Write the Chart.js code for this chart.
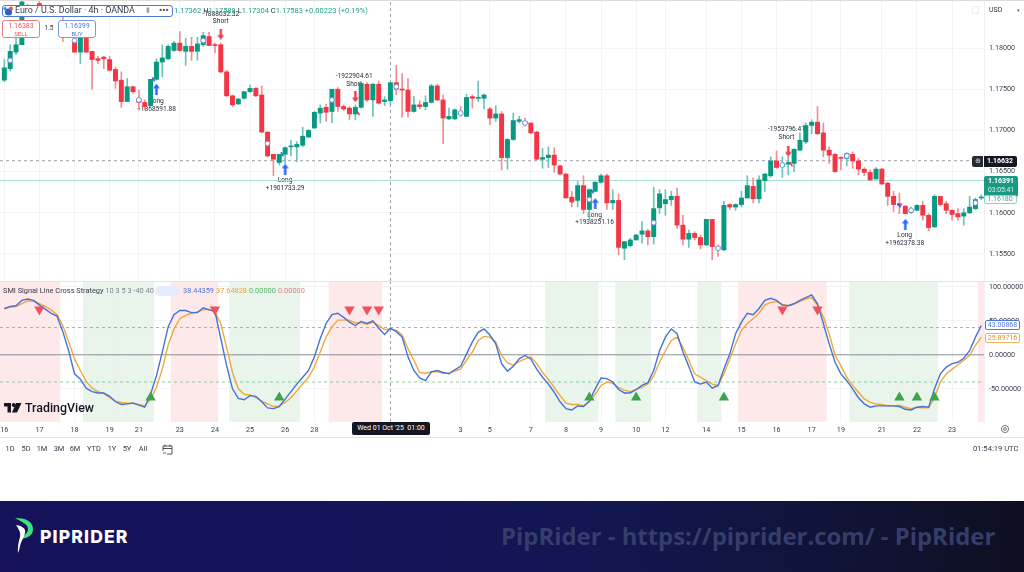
<!DOCTYPE html>
<html>
<head>
<meta charset="utf-8">
<script src="https://cdn.jsdelivr.net/npm/chart.js@4/dist/chart.umd.min.js"></script>
<style>
html, body { margin: 0; padding: 0; background: #fff; }
#stage { position: relative; width: 1024px; height: 572px; overflow: hidden; font-family: Roboto, sans-serif; background: #fff; filter: blur(0.35px); }
canvas { position: absolute; left: 0; display: block; }
.t { position: absolute; white-space: nowrap; line-height: 1; }
.c { transform: translateX(-50%); }
.box { position: absolute; box-sizing: border-box; background: #fff; }
.rule { position: absolute; left: 0; width: 1024px; height: 1px; background: #e0e3eb; }
</style>
</head>
<body>
<div id="stage">
  <canvas id="priceCanvas" width="1024" height="281" style="top:0"></canvas>
  <canvas id="smiCanvas" width="1024" height="157" style="top:281px"></canvas>

  <div class="rule" style="top:0;background:#dcdcdc"></div>
  <div class="rule" style="top:281px"></div>
  <div class="rule" style="top:437px"></div>

  <!-- header -->
  <div class="box" style="left:2px;top:5px;width:171px;height:12px;border:1px solid #4f77d6;border-radius:3px"></div>
  <svg style="position:absolute;left:2px;top:5px" width="12" height="12"><circle cx="6.5" cy="7" r="3.6" fill="#2c5fc4"/><circle cx="9" cy="3.5" r="2" fill="#e0574f"/><circle cx="3" cy="3.5" r="1.6" fill="#2c8fc4"/></svg>
  <div class="t" style="left:15px;top:6px;font-size:8.9px;color:#333a4a">Euro / U.S. Dollar · 4h · OANDA</div>
  <div class="t" style="left:146px;top:7px;font-size:7px;color:#9aa0ad">▮</div>
  <div class="t" style="left:159px;top:6px;font-size:9px;font-weight:700;color:#555">•••</div>
  <div class="t" style="left:174px;top:7px;font-size:7.5px;color:#22a08c"><span>1.17362</span> <span style="color:#333">H</span>1.17588 <span style="color:#333">L</span>1.17304 <span style="color:#333">C</span>1.17583 +0.00223 (+0.19%)</div>
  <div class="box" style="left:2px;top:20px;width:38px;height:18px;border:1px solid #e77b84;border-radius:3px"></div>
  <div class="t c" style="left:21px;top:23px;font-size:7px;color:#e2505c">1.16383</div>
  <div class="t c" style="left:21px;top:31px;font-size:6px;color:#e2505c">SELL</div>
  <div class="box" style="left:40px;top:22px;width:18px;height:13px"></div>
  <div class="t c" style="left:49px;top:25px;font-size:6.5px;color:#333">1.5</div>
  <div class="box" style="left:58px;top:20px;width:38px;height:18px;border:1px solid #7a9ae0;border-radius:3px"></div>
  <div class="t c" style="left:77px;top:23px;font-size:7px;color:#4f77d6">1.16399</div>
  <div class="t c" style="left:77px;top:31px;font-size:6px;color:#4f77d6">BUY</div>
  <div class="t" style="left:989px;top:7px;font-size:7px;color:#333">USD</div>
  <div class="t" style="left:1017px;top:8px;font-size:5px;color:#555">▾</div>
  <div class="box" style="left:972px;top:6px;width:7px;height:8px;border:1px solid #eceef2;border-radius:1px"></div>

  <!-- last price tags -->
  <div class="box" style="left:972px;top:156px;width:11px;height:11px;background:#262a33;border-radius:2px 0 0 2px"></div>
  <div class="t c" style="left:978px;top:158px;font-size:7px;color:#ddd">⊕</div>
  <div class="box" style="left:984px;top:156px;width:33px;height:11px;background:#131722;border-radius:0 2px 2px 0"></div>
  <div class="t c" style="left:1000px;top:158px;font-size:7px;font-weight:700;color:#fff">1.16632</div>
  <div class="box" style="left:984px;top:176px;width:34px;height:21px;background:#1a9a82;border-radius:2px"></div>
  <div class="t c" style="left:1001px;top:178px;font-size:7px;font-weight:700;color:#fff">1.16391</div>
  <div class="t c" style="left:1001px;top:187px;font-size:6.8px;color:#d5efe9">03:05:41</div>
  <div class="box" style="left:984px;top:195px;width:33px;height:9px;border:1px solid #8fd0c4;border-radius:2px"></div>
  <div class="t c" style="left:1000px;top:196px;font-size:7px;color:#4b9c8d">1.16180</div>

  <!-- indicator legend -->
  <div class="t" style="left:3px;top:287px;font-size:7.4px;color:#333a4a">SMI Signal Line Cross Strategy <span style="color:#80858f">10 3 5 3 -40 40</span></div>
  <div class="box" style="left:155px;top:286px;width:24px;height:10px;background:#e4ecfb;border-radius:5px"></div>
  <div class="t" style="left:183px;top:287px;font-size:7.4px;color:#4f77d6">38.44359</div>
  <div class="t" style="left:216px;top:287px;font-size:7.4px;color:#e9a23b">37.64828</div>
  <div class="t" style="left:249px;top:287px;font-size:7.4px;color:#5cb46a">0.00000</div>
  <div class="t" style="left:278px;top:287px;font-size:7.4px;color:#ee7b85">0.00000</div>

  <!-- indicator value tags -->
  <div class="box" style="left:985px;top:320px;width:35px;height:10px;border:1px solid #4f77d6;border-radius:2px"></div>
  <div class="t c" style="left:1002.5px;top:322px;font-size:7px;color:#4f77d6">43.00868</div>
  <div class="box" style="left:985px;top:333px;width:35px;height:10px;border:1px solid #efb25e;border-radius:2px"></div>
  <div class="t c" style="left:1002.5px;top:335px;font-size:7px;color:#d9902c">25.89716</div>

  <!-- watermark -->
  <svg style="position:absolute;left:4px;top:403px" width="18" height="11"><path d="M0 0h7v9.5H3.5V3.5H0z" fill="#131722"/><circle cx="9.7" cy="2" r="1.9" fill="#131722"/><path d="M12 0h5.5L13 9.5H8z" fill="#131722"/></svg>
  <div class="t" style="left:25px;top:402px;font-size:12.4px;font-weight:500;color:#131722">TradingView</div>

  <!-- crosshair date -->
  <div class="box" style="left:352px;top:422px;width:78px;height:13px;background:#131722;border-radius:2px"></div>
  <div class="t c" style="left:391px;top:425px;font-size:7px;color:#fff">Wed 01 Oct '25 &nbsp;01:00</div>
  <svg style="position:absolute;left:1000px;top:424px" width="10" height="10"><circle cx="5" cy="5" r="3.6" fill="none" stroke="#555" stroke-width=".8"/><circle cx="5" cy="5" r="1.4" fill="none" stroke="#555" stroke-width=".8"/></svg>

  <!-- range bar -->
  <div class="t c" style="left:10px;top:445px;font-size:7.4px;color:#333a4a">1D</div>
  <div class="t c" style="left:26px;top:445px;font-size:7.4px;color:#333a4a">5D</div>
  <div class="t c" style="left:42px;top:445px;font-size:7.4px;color:#333a4a">1M</div>
  <div class="t c" style="left:59px;top:445px;font-size:7.4px;color:#333a4a">3M</div>
  <div class="t c" style="left:75px;top:445px;font-size:7.4px;color:#333a4a">6M</div>
  <div class="t c" style="left:94px;top:445px;font-size:7.4px;color:#333a4a">YTD</div>
  <div class="t c" style="left:112px;top:445px;font-size:7.4px;color:#333a4a">1Y</div>
  <div class="t c" style="left:127px;top:445px;font-size:7.4px;color:#333a4a">5Y</div>
  <div class="t c" style="left:143px;top:445px;font-size:7.4px;color:#333a4a">All</div>
  <svg style="position:absolute;left:162px;top:443px" width="11" height="12"><path d="M1 3h9v8H5M1 3v5M1 5.5h9M3 1.500v2M8 1.500v2M1 10h3" fill="none" stroke="#444" stroke-width=".9"/></svg>
  <div class="t" style="left:973px;top:445px;font-size:7.6px;color:#333a4a">01:54:19 UTC</div>

  <!-- footer banner -->
  <div style="position:absolute;left:0;top:501px;width:1024px;height:71px;background:linear-gradient(90deg,#15125a 0%,#14145a 35%,#121650 60%,#101332 85%,#0e0f22 100%)"></div>
  <svg style="position:absolute;left:12px;top:516px" width="26" height="40">
    <path d="M3 2c10 0 18 3 18 11 0 7-6 9-12 10 3-4 7-6 7-10 0-5-6-7-13-11z" fill="#3ee07f"/>
    <path d="M4 9c7 1 10 4 9 8-1 5-4 8-5 13-.6 3-1 5-2 7-.6-6 .6-11 2-16 .8-4-.5-7-4-12z" fill="#fff"/>
  </svg>
  <div class="t" style="left:40px;top:527.500px;font-size:17.6px;font-weight:800;letter-spacing:1.1px;color:#fff;font-family:Inter,sans-serif">PIPRIDER</div>
  <div class="t" style="left:501px;top:524px;font-size:23.9px;font-weight:700;color:#353d6b;font-family:'Open Sans',sans-serif">PipRider - https://piprider.com/ - PipRider</div>
</div>

<script>
// candles, one every 4h (first row of each block starts at the index in the comment)
const opens = [
    1.1761, 1.1775, 1.1795, 1.1804, 1.1850, 1.1842, 1.1854, 1.1845, 1.1841, 1.1847, // 0
    1.1846, 1.1842, 1.1808, 1.1795, 1.1812, 1.1796, 1.1787, 1.1789, 1.1786, 1.1774, // 10
    1.1761, 1.1735, 1.1753, 1.1738, 1.1734, 1.1730, 1.1762, 1.1783, 1.1787, 1.1797, // 20
    1.1806, 1.1796, 1.1802, 1.1796, 1.1804, 1.1814, 1.1804, 1.1804, 1.1771, 1.1742, // 30
    1.1732, 1.1739, 1.1747, 1.1751, 1.1743, 1.1698, 1.1671, 1.1661, 1.1671, 1.1680, // 40
    1.1680, 1.1682, 1.1692, 1.1703, 1.1721, 1.1728, 1.1723, 1.1750, 1.1729, 1.1727, // 50
    1.1720, 1.1728, 1.1756, 1.1737, 1.1756, 1.1735, 1.1736, 1.1758, 1.1750, 1.1749, // 60
    1.1723, 1.1731, 1.1729, 1.1734, 1.1754, 1.1737, 1.1714, 1.1714, 1.1722, 1.1717, // 70
    1.1741, 1.1739, 1.1739, 1.1726, 1.1715, 1.1720, 1.1667, 1.1689, 1.1711, 1.1711, // 80
    1.1709, 1.1698, 1.1665, 1.1667, 1.1670, 1.1657, 1.1647, 1.1619, 1.1615, 1.1633, // 90
    1.1604, 1.1626, 1.1637, 1.1645, 1.1612, 1.1615, 1.1557, 1.1560, 1.1567, 1.1574, // 100
    1.1578, 1.1571, 1.1606, 1.1611, 1.1616, 1.1620, 1.1585, 1.1568, 1.1575, 1.1570, // 110
    1.1561, 1.1592, 1.1559, 1.1555, 1.1610, 1.1607, 1.1610, 1.1618, 1.1632, 1.1617, // 120
    1.1639, 1.1645, 1.1663, 1.1656, 1.1659, 1.1660, 1.1676, 1.1686, 1.1706, 1.1710, // 130
    1.1697, 1.1676, 1.1671, 1.1667, 1.1666, 1.1671, 1.1663, 1.1653, 1.1649, 1.1641, // 140
    1.1653, 1.1636, 1.1620, 1.1611, 1.1608, 1.1601, 1.1603, 1.1609, 1.1597, 1.1583, // 150
    1.1620, 1.1611, 1.1603, 1.1599, 1.1596, 1.1600, 1.1605, 1.1618                  // 160
];
const highs = [
    1.1786, 1.1804, 1.1815, 1.1858, 1.1853, 1.1851, 1.1857, 1.1848, 1.1850, 1.1850,
    1.1849, 1.1849, 1.1812, 1.1816, 1.1816, 1.1796, 1.1790, 1.1790, 1.1790, 1.1777,
    1.1771, 1.1763, 1.1754, 1.1749, 1.1737, 1.1762, 1.1787, 1.1804, 1.1804, 1.1808,
    1.1820, 1.1812, 1.1813, 1.1813, 1.1819, 1.1819, 1.1806, 1.1806, 1.1773, 1.1743,
    1.1739, 1.1747, 1.1755, 1.1752, 1.1754, 1.1698, 1.1671, 1.1671, 1.1680, 1.1688,
    1.1686, 1.1704, 1.1701, 1.1723, 1.1731, 1.1732, 1.1750, 1.1752, 1.1731, 1.1729,
    1.1731, 1.1758, 1.1758, 1.1757, 1.1760, 1.1741, 1.1758, 1.1779, 1.1769, 1.1763,
    1.1741, 1.1736, 1.1742, 1.1756, 1.1756, 1.1743, 1.1727, 1.1726, 1.1729, 1.1744,
    1.1743, 1.1760, 1.1744, 1.1728, 1.1730, 1.1723, 1.1690, 1.1721, 1.1717, 1.1715,
    1.1709, 1.1699, 1.1678, 1.1680, 1.1679, 1.1658, 1.1648, 1.1626, 1.1638, 1.1645,
    1.1629, 1.1638, 1.1647, 1.1647, 1.1628, 1.1623, 1.1565, 1.1569, 1.1574, 1.1589,
    1.1580, 1.1631, 1.1628, 1.1628, 1.1626, 1.1630, 1.1597, 1.1579, 1.1577, 1.1573,
    1.1592, 1.1592, 1.1561, 1.1614, 1.1611, 1.1611, 1.1626, 1.1645, 1.1642, 1.1645,
    1.1648, 1.1668, 1.1675, 1.1668, 1.1668, 1.1678, 1.1697, 1.1709, 1.1713, 1.1729,
    1.1709, 1.1680, 1.1672, 1.1668, 1.1673, 1.1674, 1.1666, 1.1655, 1.1652, 1.1655,
    1.1654, 1.1637, 1.1626, 1.1624, 1.1609, 1.1607, 1.1610, 1.1614, 1.1599, 1.1622,
    1.1620, 1.1614, 1.1604, 1.1605, 1.1605, 1.1620, 1.1618, 1.1622
];
const lows = [
    1.1759, 1.1772, 1.1792, 1.1804, 1.1840, 1.1840, 1.1840, 1.1840, 1.1840, 1.1840,
    1.1808, 1.1840, 1.1795, 1.1781, 1.1795, 1.1750, 1.1781, 1.1775, 1.1772, 1.1751,
    1.1728, 1.1735, 1.1745, 1.1725, 1.1725, 1.1729, 1.1761, 1.1765, 1.1786, 1.1796,
    1.1796, 1.1779, 1.1785, 1.1785, 1.1802, 1.1803, 1.1794, 1.1770, 1.1741, 1.1729,
    1.1732, 1.1738, 1.1746, 1.1741, 1.1697, 1.1668, 1.1645, 1.1658, 1.1660, 1.1669,
    1.1662, 1.1680, 1.1691, 1.1702, 1.1709, 1.1711, 1.1709, 1.1723, 1.1724, 1.1713,
    1.1713, 1.1727, 1.1735, 1.1717, 1.1732, 1.1730, 1.1731, 1.1743, 1.1716, 1.1716,
    1.1722, 1.1726, 1.1725, 1.1733, 1.1736, 1.1684, 1.1713, 1.1713, 1.1717, 1.1717,
    1.1727, 1.1735, 1.1726, 1.1707, 1.1711, 1.1652, 1.1653, 1.1688, 1.1709, 1.1705,
    1.1696, 1.1664, 1.1654, 1.1655, 1.1649, 1.1646, 1.1618, 1.1607, 1.1607, 1.1599,
    1.1591, 1.1626, 1.1636, 1.1604, 1.1604, 1.1549, 1.1543, 1.1559, 1.1567, 1.1563,
    1.1561, 1.1562, 1.1599, 1.1597, 1.1609, 1.1581, 1.1561, 1.1558, 1.1567, 1.1556,
    1.1560, 1.1543, 1.1547, 1.1554, 1.1604, 1.1603, 1.1607, 1.1618, 1.1612, 1.1612,
    1.1626, 1.1643, 1.1654, 1.1643, 1.1646, 1.1650, 1.1675, 1.1684, 1.1696, 1.1695,
    1.1668, 1.1660, 1.1649, 1.1652, 1.1657, 1.1654, 1.1646, 1.1645, 1.1639, 1.1641,
    1.1634, 1.1609, 1.1601, 1.1599, 1.1599, 1.1599, 1.1603, 1.1591, 1.1578, 1.1582,
    1.1608, 1.1599, 1.1591, 1.1591, 1.1585, 1.1599, 1.1604, 1.1616
];
const closes = [
    1.1776, 1.1796, 1.1804, 1.1856, 1.1842, 1.1848, 1.1842, 1.1841, 1.1847, 1.1842,
    1.1842, 1.1846, 1.1795, 1.1812, 1.1795, 1.1786, 1.1785, 1.1787, 1.1773, 1.1760,
    1.1735, 1.1753, 1.1747, 1.1734, 1.1729, 1.1762, 1.1783, 1.1788, 1.1802, 1.1806,
    1.1797, 1.1802, 1.1796, 1.1805, 1.1815, 1.1803, 1.1803, 1.1771, 1.1742, 1.1731,
    1.1738, 1.1747, 1.1751, 1.1742, 1.1698, 1.1669, 1.1665, 1.1671, 1.1679, 1.1681,
    1.1683, 1.1693, 1.1700, 1.1722, 1.1727, 1.1722, 1.1750, 1.1729, 1.1726, 1.1720,
    1.1728, 1.1757, 1.1737, 1.1756, 1.1733, 1.1737, 1.1758, 1.1750, 1.1749, 1.1723,
    1.1731, 1.1729, 1.1734, 1.1754, 1.1737, 1.1715, 1.1717, 1.1725, 1.1720, 1.1740,
    1.1739, 1.1740, 1.1743, 1.1715, 1.1720, 1.1667, 1.1689, 1.1712, 1.1713, 1.1708,
    1.1697, 1.1665, 1.1667, 1.1670, 1.1658, 1.1647, 1.1618, 1.1613, 1.1633, 1.1604,
    1.1628, 1.1637, 1.1645, 1.1612, 1.1615, 1.1558, 1.1565, 1.1567, 1.1573, 1.1578,
    1.1571, 1.1605, 1.1623, 1.1616, 1.1620, 1.1585, 1.1568, 1.1575, 1.1570, 1.1561,
    1.1592, 1.1559, 1.1556, 1.1609, 1.1607, 1.1610, 1.1618, 1.1633, 1.1617, 1.1640,
    1.1647, 1.1663, 1.1655, 1.1659, 1.1661, 1.1677, 1.1688, 1.1706, 1.1710, 1.1696,
    1.1676, 1.1670, 1.1650, 1.1666, 1.1672, 1.1663, 1.1653, 1.1649, 1.1640, 1.1653,
    1.1635, 1.1620, 1.1610, 1.1609, 1.1599, 1.1604, 1.1609, 1.1597, 1.1582, 1.1620,
    1.1610, 1.1603, 1.1598, 1.1595, 1.1600, 1.1607, 1.1616, 1.1619
];

// SMI panel
const smiLine = [
    68, 71, 72, 80, 82, 80, 73, 67, 61, 57,
    34, 6, -28, -36, -49, -54, -56, -56, -61, -69,
    -73, -72, -71, -74, -77, -58, -31, 4, 41, 59,
    65, 65, 62, 62, 69, 66, 64, 24, -16, -50,
    -64, -66, -60, -61, -69, -78, -79, -76, -65, -54,
    -43, -33, -23, -3, 24, 46, 59, 61, 55, 48,
    43, 49, 46, 50, 39, 30, 39, 34, 26, -3,
    -23, -34, -38, -25, -23, -26, -28, -22, -17, 1,
    19, 33, 38, 29, 16, -13, -24, -17, -6, -1,
    -6, -21, -33, -43, -55, -69, -79, -81, -75, -76,
    -68, -50, -34, -35, -40, -51, -56, -56, -51, -45,
    -41, -23, 6, 26, 38, 31, 4, -17, -40, -43,
    -40, -49, -45, -21, 1, 31, 48, 61, 59, 68,
    80, 83, 80, 73, 72, 75, 80, 84, 88, 75,
    46, 16, -11, -28, -38, -50, -63, -72, -77, -75,
    -75, -75, -75, -76, -80, -81, -77, -76, -77, -50,
    -28, -18, -13, -11, -5, 6, 26, 43
];
const signalLine = [
    67, 70, 71, 75, 79, 79, 75, 71, 66, 59,
    43, 19, -6, -23, -39, -49, -54, -57, -63, -68,
    -70, -71, -71, -73, -75, -65, -48, -21, 14, 38,
    53, 58, 61, 63, 66, 67, 63, 46, 11, -26,
    -50, -58, -59, -63, -68, -72, -76, -75, -70, -63,
    -53, -43, -33, -18, 4, 26, 41, 51, 51, 51,
    47, 47, 45, 48, 43, 37, 38, 36, 29, 9,
    -8, -26, -27, -25, -25, -27, -27, -24, -21, -8,
    4, 21, 27, 26, 19, -1, -12, -15, -10, -6,
    -3, -13, -26, -36, -48, -60, -71, -73, -73, -75,
    -69, -58, -45, -40, -42, -48, -52, -54, -51, -48,
    -43, -31, -11, 6, 21, 26, 11, -8, -28, -33,
    -38, -43, -45, -28, -6, 16, 36, 46, 53, 61,
    73, 77, 78, 74, 72, 75, 78, 82, 84, 73,
    56, 31, -1, -16, -33, -45, -55, -65, -70, -72,
    -73, -75, -75, -74, -77, -79, -77, -78, -78, -63,
    -40, -28, -21, -15, -8, -1, 14, 26
];
const redZones = [[-1, 9], [29, 36], [56, 64], [126, 140], [167, 167]];
const greenZones = [[14, 25], [39, 50], [93, 101], [105, 110], [119, 122], [145, 159]];
const sellSignals = [6, 36, 59, 62, 64, 133, 139];
const buySignals = [25, 47, 100, 108, 123, 153, 156, 159];
const sellSignalLevel = 66.5;
const buySignalLevel = -62.7;
const upperLevel = 40;
const lowerLevel = -40;

// axes
const dayTicks = [0, 6, 12, 18, 23, 30, 36, 42, 48, 53, 78, 83, 90, 96, 102, 108, 113, 120, 126, 132, 138, 143, 150, 156, 162];
const dayLabels = ['16', '17', '18', '19', '21', '23', '24', '25', '26', '28', '3', '5', '7', '8', '9', '10', '12', '14', '15', '16', '17', '19', '21', '22', '23'];
const priceTicks = [1.155, 1.16, 1.165, 1.17, 1.175, 1.18];
const smiTicks = [-50, 0, 50, 100];
const xMin = -0.74;
const xMax = 167.46;

// markers on the price panel
const orderIdx = [1, 12, 23, 34, 45, 56, 67, 78, 89, 100, 111, 122, 133, 144, 155, 166];
const orderPrice = [1.1785, 1.1809, 1.1737, 1.1809, 1.1684, 1.1737, 1.1753, 1.1721, 1.1709, 1.1616, 1.1588, 1.1557, 1.1658, 1.1669, 1.1603, 1.1612];
const longIdx = [26, 48, 101, 154];
const longPrice = [1.1750, 1.1653, 1.1611, 1.1586];
const shortIdx = [37, 60, 134];
const shortPrice = [1.1817, 1.1741, 1.1675];
const fillBlueIdx = [25.5, 47.5, 100.5, 153];
const fillBluePrice = [1.1762, 1.1671, 1.1626, 1.1609];
const fillRedIdx = [60.5, 134.5];
const fillRedPrice = [1.1721, 1.1659];
const noteIdx = [26, 26, 37, 37, 48, 48, 59.8, 59.8, 100.9, 100.9, 133.7, 133.7, 153.9, 153.9];
const notePrice = [1.17348, 1.1726, 1.18413, 1.18324, 1.1639, 1.1630, 1.1766, 1.17563, 1.15973, 1.1588, 1.17017, 1.16914, 1.15731, 1.15634];
const noteText = ['Long', '+1868591.88', '-1888032.32', 'Short', 'Long', '+1901733.29', '-1922904.61', 'Short', 'Long', '+1938251.16', '-1953796.41', 'Short', 'Long', '+1962378.38'];
const crossIdx = 66;
const markedPrice = 1.16632;
const lastPrice = 1.16391;

const upColor = '#089981';
const downColor = '#f23645';
const upWick = '#6cc4b4';
const downWick = '#f58b93';
const gridColor = '#f3f4f7';
const tickColor = '#3c4150';

function idx() { return opens.map((_, i) => i); }

// small arrow used as point style for the trade marks
function makeArrow(color, down) {
    const c = document.createElement('canvas');
    c.width = 7; c.height = 11;
    const g = c.getContext('2d');
    g.fillStyle = color;
    if (down) { g.translate(0, 11); g.scale(1, -1); }
    g.beginPath();
    g.moveTo(3.5, 0); g.lineTo(7, 4.5); g.lineTo(4.7, 4.5); g.lineTo(4.7, 11);
    g.lineTo(2.3, 11); g.lineTo(2.3, 4.5); g.lineTo(0, 4.5);
    g.closePath(); g.fill();
    return c;
}

function xScaleOptions(showLabels) {
    return {
        type: 'linear', min: xMin, max: xMax, offset: false,
        afterBuildTicks: s => { s.ticks = dayTicks.map(v => ({ value: v })); },
        afterFit: s => { s.height = showLabels ? 16 : 0; s.paddingLeft = 0; s.paddingRight = 0; },
        grid: { color: gridColor, drawTicks: false, offset: false },
        border: { display: false },
        ticks: {
            display: showLabels, autoSkip: false, maxRotation: 0, padding: 4, color: tickColor,
            font: { family: 'Roboto', size: 7.2 },
            callback: v => dayLabels[dayTicks.indexOf(v)]
        }
    };
}

function yScaleOptions(min, max, values, digits) {
    return {
        position: 'right', min: min, max: max,
        afterBuildTicks: s => { s.ticks = values.map(v => ({ value: v })); },
        // no room for half a label at the ends, the plot fills the panel
        afterFit: s => { s.width = 40; s.paddingTop = 0; s.paddingBottom = 0; },
        grid: { color: gridColor, drawTicks: false },
        border: { color: '#eef0f3' },
        ticks: {
            color: tickColor, padding: 5, font: { family: 'Roboto', size: 7.2 },
            callback: v => v.toFixed(digits)
        }
    };
}

const baseOptions = {
    responsive: false, animation: false, events: [],
    layout: { padding: 0, autoPadding: false },
    plugins: { legend: { display: false }, tooltip: { enabled: false } }
};

function hLine(y, color, dash, width) {
    return {
        type: 'line', data: [{ x: xMin, y: y }, { x: xMax, y: y }],
        borderColor: color, borderDash: dash, borderWidth: width,
        pointRadius: 0, order: 6
    };
}

function crossLine(min, max) {
    return {
        type: 'line', data: [{ x: crossIdx, y: min }, { x: crossIdx, y: max }],
        borderColor: '#9a9ea8', borderDash: [3, 3], borderWidth: 1, pointRadius: 0, order: 6
    };
}

function pointSet(xs, ys, opts) {
    return Object.assign({
        type: 'line', showLine: false,
        data: xs.map((x, i) => ({ x: x, y: ys[i] }))
    }, opts);
}

const tradeNotes = {
    id: 'tradeNotes',
    beforeDatasetsDraw(chart) {
        const g = chart.ctx;
        g.save();
        g.font = '6.6px Roboto';
        g.fillStyle = '#2a2e39';
        g.textAlign = 'center';
        g.textBaseline = 'middle';
        noteText.forEach((txt, i) => {
            g.fillText(txt, chart.scales.x.getPixelForValue(noteIdx[i]), chart.scales.y.getPixelForValue(notePrice[i]));
        });
        g.restore();
    }
};

const candleColors = opens.map((o, i) => (closes[i] >= o ? upColor : downColor));
const wickColors = opens.map((o, i) => (closes[i] >= o ? upWick : downWick));

new Chart(document.getElementById('priceCanvas'), {
    type: 'bar',
    data: {
        datasets: [
            hLine(markedPrice, '#9a9ea8', [3, 3], 1),
            hLine(lastPrice, '#a5dcd2', [], 1),
            crossLine(1.15172, 1.18583),
            {
                data: idx().map(i => ({ x: i, y: [lows[i], highs[i]] })),
                backgroundColor: wickColors, grouped: false, barThickness: 1, order: 5
            },
            {
                data: idx().map(i => ({ x: i, y: [opens[i], closes[i]] })),
                backgroundColor: candleColors, grouped: false, barThickness: 4.3, minBarLength: 1, order: 4
            },
            pointSet(orderIdx, orderPrice, { pointStyle: 'circle', pointRadius: 2.4, pointBackgroundColor: '#fff', pointBorderColor: '#6f90e0', pointBorderWidth: 1, order: 3 }),
            pointSet(fillBlueIdx, fillBluePrice, { pointStyle: 'line', pointRadius: 2.4, pointRotation: 60, pointBorderColor: '#2962ff', pointBorderWidth: 1.5, order: 2 }),
            pointSet(fillRedIdx, fillRedPrice, { pointStyle: 'line', pointRadius: 2.4, pointRotation: 60, pointBorderColor: '#e53945', pointBorderWidth: 1.5, order: 2 }),
            pointSet(longIdx, longPrice, { pointStyle: makeArrow('#2962ff', false), pointRadius: 5, order: 1 }),
            pointSet(shortIdx, shortPrice, { pointStyle: makeArrow('#f23645', true), pointRadius: 5, order: 1 })
        ]
    },
    options: Object.assign({}, baseOptions, {
        scales: {
            x: xScaleOptions(false),
            y: yScaleOptions(1.15172, 1.18583, priceTicks, 5)
        }
    }),
    plugins: [tradeNotes]
});

function zoneData(zones) {
    const out = [];
    zones.forEach(z => {
        for (let i = z[0]; i <= z[1]; i++) out.push({ x: i, y: [-98.7, 108.4] });
    });
    return out;
}

new Chart(document.getElementById('smiCanvas'), {
    type: 'bar',
    data: {
        datasets: [
            {
                data: zoneData(redZones), backgroundColor: '#fde8ea', grouped: false,
                barPercentage: 1, categoryPercentage: 1, order: 9
            },
            {
                data: zoneData(greenZones), backgroundColor: '#e9f4eb', grouped: false,
                barPercentage: 1, categoryPercentage: 1, order: 9
            },
            hLine(0, '#8c8f98', [], 1),
            hLine(upperLevel, '#ee8f8f', [3, 3], 1),
            hLine(lowerLevel, '#8fc79a', [3, 3], 1),
            crossLine(-98.7, 108.4),
            {
                type: 'line', data: signalLine.map((v, i) => ({ x: i, y: v })),
                borderColor: '#efa83a', borderWidth: 1.4, pointRadius: 0, order: 4
            },
            {
                type: 'line', data: smiLine.map((v, i) => ({ x: i, y: v })),
                borderColor: '#4472d8', borderWidth: 1.4, pointRadius: 0, order: 3
            },
            pointSet(sellSignals, sellSignals.map(() => sellSignalLevel), {
                pointStyle: 'triangle', pointRadius: 6, pointRotation: 180,
                pointBackgroundColor: '#f2505c', pointBorderWidth: 0, order: 2
            }),
            pointSet(buySignals, buySignals.map(() => buySignalLevel), {
                pointStyle: 'triangle', pointRadius: 6,
                pointBackgroundColor: '#3fa34d', pointBorderWidth: 0, order: 2
            })
        ]
    },
    options: Object.assign({}, baseOptions, {
        scales: {
            x: xScaleOptions(true),
            y: yScaleOptions(-98.7, 108.4, smiTicks, 5)
        }
    })
});
</script>
</body>
</html>
